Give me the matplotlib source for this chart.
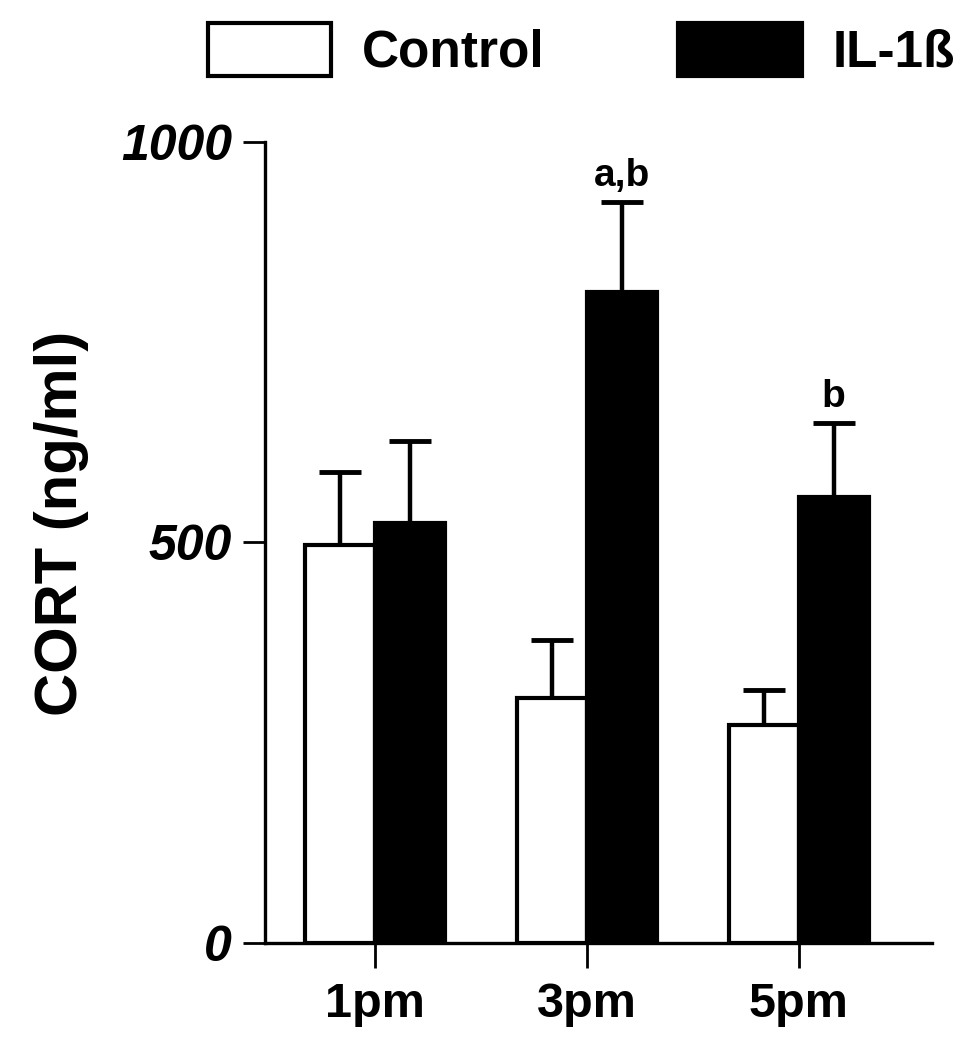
import matplotlib
matplotlib.use("Agg")
import matplotlib.pyplot as plt
import numpy as np

plt.rcParams['font.family'] = ['Liberation Sans', 'DejaVu Sans']
plt.rcParams['font.weight'] = 'bold'

times = ['1pm', '3pm', '5pm']
control_mean = [497, 306, 272]
control_top = [588, 378, 316]
il1b_mean = [524, 813, 556]
il1b_top = [627, 925, 649]
y_ticks = [0, 500, 1000]
sig_labels = ['', 'a,b', 'b']

x = np.arange(len(times))
w = 0.33

fig = plt.figure(figsize=(9.61, 10.5), dpi=100)
ax = fig.add_axes([0.276, 0.102, 0.694, 0.763])

ctrl_err = np.array(control_top) - np.array(control_mean)
il_err = np.array(il1b_top) - np.array(il1b_mean)

ax.bar(x - w/2, control_mean, w, color='white', edgecolor='black', linewidth=3,
       label='Control', zorder=3)
ax.bar(x + w/2, il1b_mean, w, color='black', edgecolor='black', linewidth=3,
       label='IL-1ß', zorder=3)

ax.errorbar(x - w/2, control_mean, yerr=[np.zeros(3), ctrl_err], fmt='none',
            ecolor='black', elinewidth=3.2, capsize=15, capthick=3.5, zorder=2)
ax.errorbar(x + w/2, il1b_mean, yerr=[np.zeros(3), il_err], fmt='none',
            ecolor='black', elinewidth=3.2, capsize=15, capthick=3.5, zorder=2)

for i, s in enumerate(sig_labels):
    if s:
        ax.text(x[i] + w/2, il1b_top[i] + 10, s, ha='center', va='bottom',
                fontsize=28, fontweight='bold')

ax.set_xlim(-0.52, 2.63)
ax.set_ylim(0, 1000)
ax.set_yticks(y_ticks)
ax.set_yticklabels([str(v) for v in y_ticks], fontsize=36, fontweight='bold',
                   fontstyle='italic')
ax.set_xticks(x)
ax.set_xticklabels(times, fontsize=35, fontweight='bold')
ax.tick_params(axis='y', width=2, length=16, pad=8)
ax.tick_params(axis='x', width=2, length=18, pad=10)

for side in ['top', 'right']:
    ax.spines[side].set_visible(False)
for side in ['left', 'bottom']:
    ax.spines[side].set_linewidth(2.4)

fig.text(62 / 961, 1 - 523 / 1050, 'CORT (ng/ml)', rotation=90, ha='center',
         va='center', fontsize=43, fontweight='bold')

fig.legend(loc='center', bbox_to_anchor=(0.605, 0.952), ncol=2, frameon=False,
           handlelength=2.4, handleheight=1.2, handletextpad=0.6,
           columnspacing=2.6, prop={'weight': 'bold', 'size': 37})

fig.savefig('out.png', dpi=100)
